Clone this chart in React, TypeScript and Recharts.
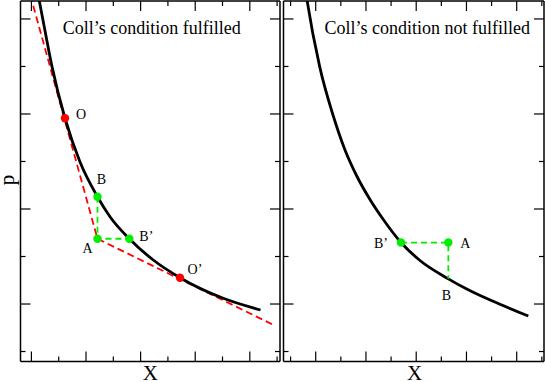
import React from 'react';
import { ComposedChart, Line, Scatter, XAxis, YAxis } from 'recharts';

// ---------- data ----------
// Left panel: "Coll's condition fulfilled"
const leftCurve: [number, number][] = [
  [0.11, 4.305], [0.142, 4.2], [0.208, 4.0], [0.377, 3.498], [0.615, 2.955],
  [0.89, 2.495], [1.21, 2.129], [1.439, 1.919], [1.793, 1.687], [2.232, 1.463],
  [2.721, 1.277], [3.514, 1.06], [4.196, 0.937],
];
const leftTangents: [number, number][] = [[-0.02, 4.25], [1.21, 1.687], [4.461, 0.772]];
const leftStep: [number, number][] = [[1.21, 2.129], [1.21, 1.687], [1.793, 1.687]];
const leftRedNames = ['O', 'O’'];
const leftRedPts: [number, number][] = [[0.615, 2.955], [2.721, 1.277]];
const leftGreenNames = ['B', 'A', 'B’'];
const leftGreenPts: [number, number][] = [[1.21, 2.129], [1.21, 1.687], [1.793, 1.687]];

// Right panel: "Coll's condition not fulfilled"
const rightCurve: [number, number][] = [
  [-0.203, 4.305], [-0.173, 4.2], [0.079, 3.498], [0.344, 2.989], [0.583, 2.621],
  [0.822, 2.342], [1.08, 2.1], [1.345, 1.889], [1.697, 1.647], [2.075, 1.458],
  [2.639, 1.265], [3.005, 1.158], [3.667, 0.997], [4.231, 0.874],
];
const rightStep: [number, number][] = [[1.697, 1.647], [2.639, 1.647], [2.639, 1.265]];
const rightGreenNames = ['B’', 'A'];
const rightGreenPts: [number, number][] = [[1.697, 1.647], [2.639, 1.647]];
const rightTextNames = ['B'];
const rightTextPts: [number, number][] = [[2.639, 1.265]];

// axes / ticks
const leftXDomain: [number, number] = [-0.2, 4.553];
const rightXDomain: [number, number] = [-0.641, 4.543];
const yDomain: [number, number] = [0.395, 4.189];
const leftXMajor = [0, 1, 2, 3, 4];
const leftXMinor = [0.5, 1.5, 2.5, 3.5, 4.5];
const rightXMajor = [0, 1, 2, 3, 4];
const rightXMinor = [-0.5, 0.5, 1.5, 2.5, 3.5, 4.5];
const yMajor = [1, 2, 3, 4];
const yMinor = [0.5, 1.5, 2.5, 3.5];

const titles = ['Coll’s condition fulfilled', 'Coll’s condition not fulfilled'];
const xLabel = 'X';
const yLabel = 'p';

// ---------- styles ----------
const FONT = '"Liberation Serif", "Times New Roman", Times, serif';
const RED = '#ff0000';
const GREEN = '#00ee00';
const leftOffsets: Record<string, [number, number]> = {
  'O': [16, -4], 'B': [4, -17.5], 'A': [-10, 10], 'B’': [17, -2.5], 'O’': [15, -8.5],
};
const rightOffsets: Record<string, [number, number]> = {
  'B’': [-20, 1], 'A': [17, 1], 'B': [-2, 17],
};

const toXY = (pts: [number, number][]) => pts.map(([x, y]) => ({ x, y }));
const toNamed = (names: string[], pts: [number, number][]) =>
  pts.map(([x, y], i) => ({ x, y, name: names[i] }));

const axisLineStyle = { stroke: '#000', strokeWidth: 1.5 };
const tickLineStyle = { stroke: '#000', strokeWidth: 1.2 };
const THIN = 0.01;
const emptyTick = () => <g />;

function frameAxes(xDomain: [number, number], xMajor: number[], xMinor: number[]) {
  const common = { type: 'number' as const, allowDataOverflow: true, interval: 0 as const, tick: emptyTick, tickLine: tickLineStyle, mirror: true };
  return [
    <XAxis key="xb" xAxisId="b" dataKey="x" domain={xDomain} orientation="bottom" height={THIN} ticks={xMajor} tickSize={10} axisLine={axisLineStyle} {...common} />,
    <XAxis key="xbm" xAxisId="bm" dataKey="x" domain={xDomain} orientation="bottom" height={THIN} ticks={xMinor} tickSize={5} axisLine={false} {...common} />,
    <XAxis key="xt" xAxisId="t" dataKey="x" domain={xDomain} orientation="top" height={THIN} ticks={xMajor} tickSize={10} axisLine={axisLineStyle} {...common} />,
    <XAxis key="xtm" xAxisId="tm" dataKey="x" domain={xDomain} orientation="top" height={THIN} ticks={xMinor} tickSize={5} axisLine={false} {...common} />,
    <YAxis key="yl" yAxisId="l" dataKey="y" domain={yDomain} orientation="left" width={THIN} ticks={yMajor} tickSize={10} axisLine={axisLineStyle} {...common} />,
    <YAxis key="ylm" yAxisId="lm" dataKey="y" domain={yDomain} orientation="left" width={THIN} ticks={yMinor} tickSize={5} axisLine={false} {...common} />,
    <YAxis key="yr" yAxisId="r" dataKey="y" domain={yDomain} orientation="right" width={THIN} ticks={yMajor} tickSize={10} axisLine={axisLineStyle} {...common} />,
    <YAxis key="yrm" yAxisId="rm" dataKey="y" domain={yDomain} orientation="right" width={THIN} ticks={yMinor} tickSize={5} axisLine={false} {...common} />,
  ];
}

const makeDot = (color: string, offsets: Record<string, [number, number]>, withDot = true) => (props: any) => {
  const { cx, cy, payload } = props;
  const name = payload?.name ?? '';
  const [dx, dy] = offsets[name] ?? [0, 0];
  return (
    <g>
      {withDot && <circle cx={cx} cy={cy} r={4.2} fill={color} />}
      <text x={cx + dx} y={cy + dy} textAnchor="middle" dominantBaseline="central" fontSize={14} fontFamily={FONT} fill="#000">
        {name}
      </text>
    </g>
  );
};

const lineCommon = { xAxisId: 'b', yAxisId: 'l', dataKey: 'y', dot: false, activeDot: false, isAnimationActive: false };

export default function App() {
  return (
    <div style={{ position: 'absolute', left: 0, top: 0, width: 545, height: 382, background: '#fff', overflow: 'hidden' }}>
      <div style={{ position: 'absolute', left: 0, top: 0 }}>
        <ComposedChart width={282} height={382} margin={{ top: 1, right: 2, bottom: 20.5, left: 20.5 }}>
          {frameAxes(leftXDomain, leftXMajor, leftXMinor)}
          <Line {...lineCommon} data={toXY(leftTangents)} type="linear" stroke={RED} strokeWidth={1.8} strokeDasharray="7 4" />
          <Line {...lineCommon} data={toXY(leftCurve)} type="monotone" stroke="#000" strokeWidth={2.8} />
          <Line {...lineCommon} data={toXY(leftStep)} type="linear" stroke={GREEN} strokeWidth={1.8} strokeDasharray="6 4" />
          <Scatter xAxisId="b" yAxisId="l" data={toNamed(leftRedNames, leftRedPts)} shape={makeDot(RED, leftOffsets)} isAnimationActive={false} />
          <Scatter xAxisId="b" yAxisId="l" data={toNamed(leftGreenNames, leftGreenPts)} shape={makeDot(GREEN, leftOffsets)} isAnimationActive={false} />
        </ComposedChart>
      </div>
      <div style={{ position: 'absolute', left: 282, top: 0 }}>
        <ComposedChart width={263} height={382} margin={{ top: 1, right: 1, bottom: 20.5, left: 1.5 }}>
          {frameAxes(rightXDomain, rightXMajor, rightXMinor)}
          <Line {...lineCommon} data={toXY(rightCurve)} type="monotone" stroke="#000" strokeWidth={2.8} />
          <Line {...lineCommon} data={toXY(rightStep)} type="linear" stroke={GREEN} strokeWidth={1.8} strokeDasharray="6 4" />
          <Scatter xAxisId="b" yAxisId="l" data={toNamed(rightGreenNames, rightGreenPts)} shape={makeDot(GREEN, rightOffsets)} isAnimationActive={false} />
          <Scatter xAxisId="b" yAxisId="l" data={toNamed(rightTextNames, rightTextPts)} shape={makeDot(GREEN, rightOffsets, false)} isAnimationActive={false} />
        </ComposedChart>
      </div>
      <svg width={545} height={382} style={{ position: 'absolute', left: 0, top: 0, pointerEvents: 'none' }}>
        <g fontFamily={FONT} fill="#000">
          <text x={151.7} y={33.5} textAnchor="middle" fontSize={18}>{titles[0]}</text>
          <text x={427.2} y={34} textAnchor="middle" fontSize={18}>{titles[1]}</text>
          <text x={150.25} y={379.5} textAnchor="middle" fontSize={21}>{xLabel}</text>
          <text x={414.5} y={379.5} textAnchor="middle" fontSize={21}>{xLabel}</text>
          <text x={14} y={180} textAnchor="middle" fontSize={21} transform="rotate(-90 14 180)">{yLabel}</text>
        </g>
      </svg>
    </div>
  );
}
